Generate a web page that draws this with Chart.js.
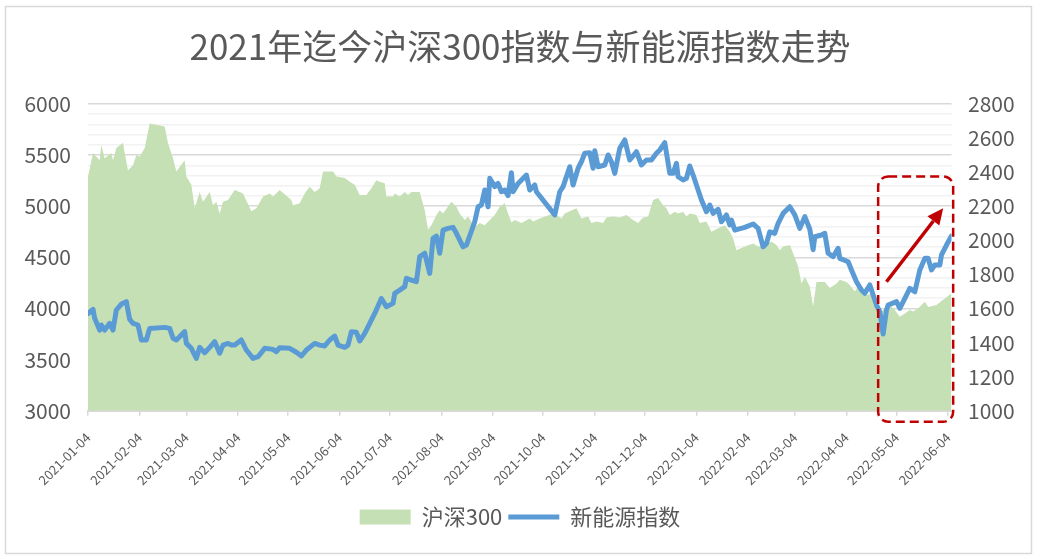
<!DOCTYPE html>
<html>
<head>
<meta charset="utf-8">
<title>2021年迄今沪深300指数与新能源指数走势</title>
<script src="https://cdn.jsdelivr.net/npm/chart.js@4.4.1/dist/chart.umd.min.js"></script>
<style>
  html, body { margin: 0; padding: 0; background: #fff; }
  #chart { display: block; }
</style>
</head>
<body>
<canvas id="chart" width="1040" height="559"></canvas>
<script>
const titleText = '2021年迄今沪深300指数与新能源指数走势';
const seriesNames = ['沪深300', '新能源指数'];

const tickLabels = ['2021-01-04', '2021-02-04', '2021-03-04', '2021-04-04', '2021-05-04', '2021-06-04',
    '2021-07-04', '2021-08-04', '2021-09-04', '2021-10-04', '2021-11-04', '2021-12-04',
    '2022-01-04', '2022-02-04', '2022-03-04', '2022-04-04', '2022-05-04', '2022-06-04'];

// 沪深300 (left axis)
const hs300Dates = ['2021-01-04', '2021-01-07', '2021-01-11', '2021-01-12', '2021-01-14', '2021-01-18', '2021-01-19', '2021-01-21', '2021-01-25', '2021-01-26',
    '2021-01-28', '2021-01-31', '2021-02-02', '2021-02-04', '2021-02-07', '2021-02-10', '2021-02-19', '2021-02-21', '2021-02-24', '2021-02-26',
    '2021-03-03', '2021-03-04', '2021-03-07', '2021-03-09', '2021-03-12', '2021-03-14', '2021-03-18', '2021-03-20', '2021-03-22', '2021-03-24',
    '2021-03-26', '2021-03-29', '2021-04-02', '2021-04-07', '2021-04-12', '2021-04-15', '2021-04-19', '2021-04-23', '2021-04-25', '2021-04-29',
    '2021-05-06', '2021-05-07', '2021-05-11', '2021-05-14', '2021-05-17', '2021-05-20', '2021-05-23', '2021-05-25', '2021-05-31', '2021-06-02',
    '2021-06-07', '2021-06-10', '2021-06-13', '2021-06-16', '2021-06-20', '2021-06-23', '2021-06-26', '2021-06-28', '2021-07-01', '2021-07-02',
    '2021-07-06', '2021-07-07', '2021-07-10', '2021-07-13', '2021-07-15', '2021-07-17', '2021-07-22', '2021-07-25', '2021-07-27', '2021-07-29',
    '2021-08-01', '2021-08-03', '2021-08-05', '2021-08-10', '2021-08-13', '2021-08-15', '2021-08-18', '2021-08-20', '2021-08-24', '2021-08-27',
    '2021-08-30', '2021-09-02', '2021-09-05', '2021-09-08', '2021-09-11', '2021-09-13', '2021-09-15', '2021-09-17', '2021-09-21', '2021-09-26',
    '2021-09-28', '2021-10-02', '2021-10-10', '2021-10-12', '2021-10-15', '2021-10-17', '2021-10-22', '2021-10-24', '2021-10-27', '2021-10-31',
    '2021-11-02', '2021-11-05', '2021-11-09', '2021-11-11', '2021-11-15', '2021-11-19', '2021-11-23', '2021-11-27', '2021-11-30', '2021-12-03',
    '2021-12-06', '2021-12-09', '2021-12-12', '2021-12-15', '2021-12-17', '2021-12-19', '2021-12-22', '2021-12-24', '2021-12-27', '2021-12-29',
    '2021-12-31', '2022-01-04', '2022-01-06', '2022-01-10', '2022-01-13', '2022-01-17', '2022-01-21', '2022-01-24', '2022-01-26', '2022-01-28',
    '2022-02-02', '2022-02-07', '2022-02-10', '2022-02-14', '2022-02-18', '2022-02-21', '2022-02-23', '2022-02-25', '2022-03-01', '2022-03-03',
    '2022-03-06', '2022-03-08', '2022-03-10', '2022-03-13', '2022-03-15', '2022-03-17', '2022-03-22', '2022-03-25', '2022-03-29', '2022-03-31',
    '2022-04-04', '2022-04-06', '2022-04-09', '2022-04-11', '2022-04-14', '2022-04-16', '2022-04-19', '2022-04-21', '2022-04-24', '2022-04-27',
    '2022-04-29', '2022-05-03', '2022-05-06', '2022-05-09', '2022-05-12', '2022-05-14', '2022-05-17', '2022-05-21', '2022-05-23', '2022-05-28',
    '2022-06-01', '2022-06-06'];
const hs300Values = [5290, 5520, 5450, 5600, 5470, 5520, 5450, 5570, 5620, 5520,
    5350, 5400, 5500, 5485, 5570, 5810, 5780, 5615, 5470, 5340,
    5450, 5290, 5210, 4980, 5140, 5045, 5140, 5010, 5045, 4930,
    5045, 5060, 5160, 5125, 4950, 4980, 5095, 5125, 5095, 5160,
    5060, 5010, 5030, 5125, 5190, 5140, 5175, 5340, 5340, 5290,
    5275, 5240, 5210, 5110, 5110, 5175, 5255, 5240, 5225, 5095,
    5095, 5125, 5095, 5140, 5110, 5140, 5140, 4960, 4770, 4815,
    4915, 4960, 4930, 5045, 4995, 4930, 4865, 4900, 4800, 4835,
    4815, 4865, 4915, 4995, 5030, 4930, 4840, 4865, 4835, 4880,
    4850, 4880, 4930, 4915, 4880, 4930, 4965, 4980, 4880, 4900,
    4835, 4850, 4835, 4890, 4900, 4890, 4915, 4865, 4835, 4890,
    4900, 5060, 5080, 5010, 4980, 4915, 4945, 4930, 4945, 4900,
    4930, 4915, 4835, 4850, 4750, 4785, 4815, 4750, 4685, 4570,
    4605, 4635, 4605, 4620, 4655, 4620, 4570, 4605, 4620, 4540,
    4410, 4245, 4310, 4215, 4020, 4260, 4260, 4200, 4245, 4280,
    4260, 4230, 4165, 4215, 4150, 4130, 4150, 4115, 3950, 4000,
    4050, 3985, 3920, 3950, 3985, 3970, 4000, 4065, 4015, 4035,
    4085, 4150];

// 新能源指数 (right axis)
const xnyDates = ['2021-01-04', '2021-01-07', '2021-01-08', '2021-01-11', '2021-01-12', '2021-01-14', '2021-01-17', '2021-01-19', '2021-01-21', '2021-01-24',
    '2021-01-27', '2021-01-29', '2021-01-31', '2021-02-03', '2021-02-05', '2021-02-08', '2021-02-10', '2021-02-19', '2021-02-22', '2021-02-24',
    '2021-02-26', '2021-03-03', '2021-03-04', '2021-03-07', '2021-03-10', '2021-03-12', '2021-03-15', '2021-03-18', '2021-03-21', '2021-03-24',
    '2021-03-26', '2021-03-29', '2021-03-31', '2021-04-02', '2021-04-06', '2021-04-09', '2021-04-13', '2021-04-16', '2021-04-20', '2021-04-25',
    '2021-04-27', '2021-04-29', '2021-05-05', '2021-05-09', '2021-05-12', '2021-05-15', '2021-05-20', '2021-05-23', '2021-05-26', '2021-05-29',
    '2021-06-01', '2021-06-03', '2021-06-07', '2021-06-09', '2021-06-11', '2021-06-14', '2021-06-16', '2021-06-19', '2021-06-22', '2021-06-25',
    '2021-06-29', '2021-07-02', '2021-07-06', '2021-07-07', '2021-07-10', '2021-07-13', '2021-07-14', '2021-07-17', '2021-07-20', '2021-07-22',
    '2021-07-25', '2021-07-28', '2021-07-30', '2021-08-01', '2021-08-03', '2021-08-05', '2021-08-08', '2021-08-11', '2021-08-13', '2021-08-17',
    '2021-08-19', '2021-08-24', '2021-08-26', '2021-08-28', '2021-08-30', '2021-09-01', '2021-09-02', '2021-09-05', '2021-09-07', '2021-09-09',
    '2021-09-11', '2021-09-13', '2021-09-15', '2021-09-16', '2021-09-19', '2021-09-24', '2021-09-26', '2021-09-29', '2021-09-30', '2021-10-11',
    '2021-10-14', '2021-10-16', '2021-10-20', '2021-10-22', '2021-10-25', '2021-10-27', '2021-10-29', '2021-11-01', '2021-11-03', '2021-11-04',
    '2021-11-06', '2021-11-10', '2021-11-12', '2021-11-14', '2021-11-16', '2021-11-19', '2021-11-22', '2021-11-25', '2021-11-29', '2021-12-02',
    '2021-12-05', '2021-12-08', '2021-12-11', '2021-12-13', '2021-12-16', '2021-12-19', '2021-12-21', '2021-12-23', '2021-12-24', '2021-12-27',
    '2021-12-29', '2021-12-31', '2022-01-02', '2022-01-05', '2022-01-07', '2022-01-10', '2022-01-12', '2022-01-14', '2022-01-17', '2022-01-19',
    '2022-01-22', '2022-01-24', '2022-01-25', '2022-01-27', '2022-02-02', '2022-02-07', '2022-02-10', '2022-02-13', '2022-02-15', '2022-02-17',
    '2022-02-20', '2022-02-22', '2022-02-25', '2022-03-01', '2022-03-04', '2022-03-07', '2022-03-10', '2022-03-13', '2022-03-15', '2022-03-16',
    '2022-03-20', '2022-03-22', '2022-03-24', '2022-03-27', '2022-03-30', '2022-03-31', '2022-04-05', '2022-04-07', '2022-04-10', '2022-04-13',
    '2022-04-15', '2022-04-18', '2022-04-20', '2022-04-22', '2022-04-24', '2022-04-26', '2022-04-28', '2022-04-29', '2022-05-04', '2022-05-06',
    '2022-05-10', '2022-05-12', '2022-05-15', '2022-05-18', '2022-05-21', '2022-05-23', '2022-05-25', '2022-05-27', '2022-05-30', '2022-05-31',
    '2022-06-03', '2022-06-06'];
const xnyValues = [1570, 1595, 1542, 1473, 1503, 1473, 1513, 1473, 1591, 1626,
    1640, 1536, 1513, 1503, 1415, 1415, 1483, 1489, 1483, 1425,
    1415, 1464, 1395, 1366, 1307, 1372, 1340, 1372, 1405, 1337,
    1385, 1395, 1385, 1385, 1415, 1356, 1307, 1317, 1366, 1360,
    1346, 1370, 1366, 1343, 1321, 1356, 1395, 1385, 1380, 1415,
    1438, 1385, 1372, 1385, 1464, 1460, 1409, 1454, 1513, 1571,
    1659, 1610, 1630, 1689, 1708, 1728, 1777, 1767, 1757, 1904,
    1924, 1806, 2012, 2025, 1924, 2060, 2070, 2076, 2041, 1962,
    1972, 2109, 2197, 2207, 2295, 2197, 2364, 2315, 2334, 2285,
    2295, 2262, 2397, 2285, 2334, 2383, 2295, 2325, 2285, 2149,
    2285, 2315, 2432, 2325, 2423, 2461, 2511, 2514, 2423, 2526,
    2432, 2442, 2501, 2461, 2393, 2540, 2589, 2471, 2520, 2442,
    2471, 2471, 2511, 2530, 2573, 2393, 2393, 2452, 2373, 2354,
    2364, 2436, 2383, 2295, 2237, 2168, 2207, 2158, 2182, 2109,
    2149, 2090, 2119, 2060, 2076, 2096, 2070, 1962, 1982, 2050,
    2041, 2100, 2158, 2197, 2149, 2070, 2139, 2065, 1945, 2021,
    2031, 2041, 1924, 1904, 1953, 1894, 1874, 1826, 1757, 1708,
    1689, 1738, 1679, 1620, 1581, 1450, 1591, 1620, 1640, 1601,
    1679, 1718, 1698, 1826, 1894, 1894, 1826, 1855, 1855, 1914,
    1972, 2025];

// red callout: dashed box corners and arrow ends, as [date, 新能源指数 level]
const boxCorners = [['2022-04-23', 2375], ['2022-06-07', 935]];
const arrowEnds = [['2022-04-28', 1757], ['2022-06-01', 2188]];

const DAY0 = Date.UTC(2021, 0, 4);
function dayOf(s) {
    const [y, m, d] = s.split('-').map(Number);
    return (Date.UTC(y, m - 1, d) - DAY0) / 864e5;
}

const font = '"Noto Sans CJK SC", "Noto Sans", sans-serif';
const grey = '#595959';

const hs300Points = hs300Dates.map((d, i) => ({x: dayOf(d), y: hs300Values[i]}));
const xnyPoints = xnyDates.map((d, i) => ({x: dayOf(d), y: xnyValues[i]}));
const tickDays = tickLabels.map(dayOf);
const lastDay = Math.max(hs300Points[hs300Points.length - 1].x, xnyPoints[xnyPoints.length - 1].x);

const frame = {
    id: 'frame',
    beforeDraw(chart) {
        const ctx = chart.ctx;
        ctx.save();
        ctx.strokeStyle = '#d9d9d9';
        ctx.lineWidth = 1.5;
        ctx.strokeRect(5.5, 6.5, chart.width - 14, chart.height - 12);
        ctx.restore();
    }
};

const callout = {
    id: 'callout',
    afterDraw(chart) {
        const {ctx, scales: {x, y1}} = chart;
        const px = d => x.getPixelForValue(dayOf(d));
        const [[d0, v0], [d1, v1]] = boxCorners;
        const left = px(d0), right = px(d1);
        const top = y1.getPixelForValue(v0), bottom = y1.getPixelForValue(v1);
        const r = 10;
        ctx.save();
        ctx.strokeStyle = '#c00000';
        ctx.fillStyle = '#c00000';
        ctx.lineWidth = 2.5;
        ctx.setLineDash([9, 5]);
        ctx.beginPath();
        ctx.moveTo(left + r, top);
        ctx.arcTo(right, top, right, bottom, r);
        ctx.arcTo(right, bottom, left, bottom, r);
        ctx.arcTo(left, bottom, left, top, r);
        ctx.arcTo(left, top, right, top, r);
        ctx.closePath();
        ctx.stroke();

        // arrow
        const [[a0, u0], [a1, u1]] = arrowEnds;
        const sx = px(a0), sy = y1.getPixelForValue(u0);
        const ex = px(a1), ey = y1.getPixelForValue(u1);
        const ang = Math.atan2(ey - sy, ex - sx);
        const head = 16, half = 7.5;
        const bx = ex - head * Math.cos(ang), by = ey - head * Math.sin(ang);
        ctx.setLineDash([]);
        ctx.lineWidth = 3.5;
        ctx.beginPath();
        ctx.moveTo(sx, sy);
        ctx.lineTo(bx, by);
        ctx.stroke();
        ctx.beginPath();
        ctx.moveTo(ex, ey);
        ctx.lineTo(bx + half * Math.sin(ang), by - half * Math.cos(ang));
        ctx.lineTo(bx - half * Math.sin(ang), by + half * Math.cos(ang));
        ctx.closePath();
        ctx.fill();
        ctx.restore();
    }
};

new Chart(document.getElementById('chart'), {
    type: 'line',
    data: {
        datasets: [{
            label: seriesNames[1],
            data: xnyPoints,
            yAxisID: 'y1',
            borderColor: '#5b9bd5',
            backgroundColor: '#5b9bd5',
            borderWidth: 5,
            pointBorderWidth: 5,
            pointRadius: 0,
            pointStyle: 'line',
            borderJoinStyle: 'round',
            borderCapStyle: 'round',
            tension: 0,
            fill: false
        }, {
            label: seriesNames[0],
            data: hs300Points,
            yAxisID: 'y',
            borderWidth: 0,
            borderColor: '#c5e0b4',
            backgroundColor: '#c5e0b4',
            pointRadius: 0,
            pointStyle: 'rect',
            tension: 0,
            fill: 'start'
        }]
    },
    options: {
        responsive: false,
        animation: false,
        devicePixelRatio: 1,
        layout: {padding: {top: 0, left: 0, right: 0, bottom: 21}},
        plugins: {
            title: {
                display: true,
                text: titleText,
                color: grey,
                font: {family: font, size: 35, weight: 'normal'},
                padding: {top: 25.5, bottom: 36.5}
            },
            legend: {
                position: 'bottom',
                reverse: true,
                labels: {
                    usePointStyle: true,
                    pointStyleWidth: 51,
                    boxHeight: 15,
                    padding: 6,
                    color: grey,
                    font: {family: font, size: 22}
                }
            },
            tooltip: {enabled: false}
        },
        scales: {
            x: {
                type: 'linear',
                min: 0,
                max: lastDay,
                afterBuildTicks: s => { s.ticks = tickDays.map(v => ({value: v})); },
                afterFit: s => { s.height = 89.3; },
                ticks: {
                    autoSkip: false,
                    minRotation: 45,
                    maxRotation: 45,
                    padding: 14,
                    color: grey,
                    font: {family: font, size: 13},
                    callback: v => tickLabels[tickDays.indexOf(v)]
                },
                grid: {drawOnChartArea: false, drawTicks: true, tickLength: 5, color: '#d9d9d9', lineWidth: 1.5},
                border: {color: '#d9d9d9', width: 2}
            },
            y: {
                position: 'left',
                min: 3000,
                max: 6000,
                afterFit: s => { s.width = 88; },
                ticks: {
                    stepSize: 100,
                    autoSkip: false,
                    padding: 17,
                    color: grey,
                    font: {family: font, size: 21},
                    callback: v => (v % 500 === 0 ? String(v) : '')
                },
                grid: {
                    drawTicks: false,
                    lineWidth: 1.5,
                    color: c => (c.tick && c.tick.value % 500 === 0 ? '#d9d9d9' : '#f2f2f2')
                },
                border: {display: false}
            },
            y1: {
                position: 'right',
                min: 1000,
                max: 2800,
                afterFit: s => { s.width = 88.5; },
                ticks: {
                    stepSize: 200,
                    padding: 16.5,
                    color: grey,
                    font: {family: font, size: 21},
                    callback: v => String(v)
                },
                grid: {display: false, drawTicks: false},
                border: {display: false}
            }
        }
    }
    ,
    plugins: [frame, callout]
});
</script>
</body>
</html>
